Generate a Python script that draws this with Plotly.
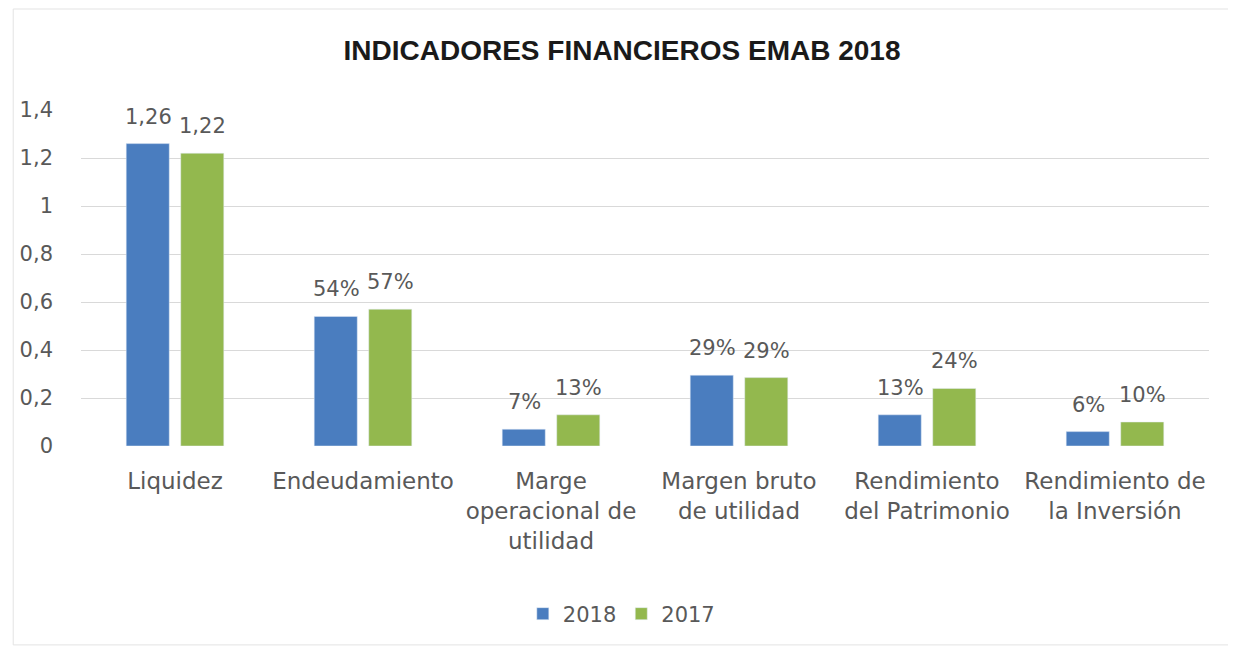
import plotly.graph_objects as go

categories = ["Liquidez", "Endeudamiento", "Marge<br>operacional de<br>utilidad",
              "Margen bruto<br>de utilidad", "Rendimiento<br>del Patrimonio",
              "Rendimiento de<br>la Inversión"]
values_2018 = [1.26, 0.54, 0.07, 0.295, 0.13, 0.06]
values_2017 = [1.22, 0.57, 0.13, 0.285, 0.24, 0.10]
labels_2018 = ["1,26", "54%", "7%", "29%", "13%", "6%"]
labels_2017 = ["1,22", "57%", "13%", "29%", "24%", "10%"]
tick_vals = [0, 0.2, 0.4, 0.6, 0.8, 1.0, 1.2, 1.4]
tick_text = ["0", "0,2", "0,4", "0,6", "0,8", "1", "1,2", "1,4"]

GRAY = "#595959"
FONT = "DejaVu Sans"

fig = go.Figure()
fig.add_trace(go.Bar(name="2018", x=categories, y=values_2018,
                     marker_color="#4a7dbf", cliponaxis=False))
fig.add_trace(go.Bar(name="2017", x=categories, y=values_2017,
                     marker_color="#93b84e", cliponaxis=False))

annotations = []
for series, labels, shift in ((values_2018, labels_2018, -27), (values_2017, labels_2017, 27)):
    for cat, val, lab in zip(categories, series, labels):
        annotations.append(dict(x=cat, y=val, xref="x", yref="y", text=lab,
                                showarrow=False, xshift=shift, yshift=27,
                                yanchor="middle", xanchor="center",
                                font=dict(family=FONT, size=21, color=GRAY)))

fig.update_layout(
    width=1228, height=645,
    margin=dict(l=69, r=27, t=102, b=207),
    paper_bgcolor="white", plot_bgcolor="white",
    barmode="group", bargap=0.42, bargroupgap=0.21,
    title=dict(text="<b>INDICADORES FINANCIEROS EMAB 2018</b>",
               x=0.5, xanchor="center", y=0.935, yanchor="middle",
               font=dict(family="Liberation Sans Narrow, Arial Narrow, Liberation Sans",
                         size=28, color="#1a1a1a")),
    legend=dict(orientation="h", x=0.479, xanchor="center", y=-0.5, yanchor="middle",
                font=dict(family=FONT, size=21, color=GRAY),
                traceorder="normal"),
    annotations=annotations,
    shapes=[dict(type="rect", xref="paper", yref="paper",
                 x0=-0.0601, x1=1.04, y0=-0.592, y1=1.3006,
                 line=dict(color="#e3e3e3", width=1), fillcolor="rgba(0,0,0,0)",
                 layer="below")],
)
fig.update_yaxes(range=[0, 1.4], tickvals=tick_vals, ticktext=tick_text,
                 showgrid=True, gridcolor="#d9d9d9", gridwidth=1,
                 zeroline=False, showline=False, ticks="",
                 ticklabelstandoff=27,
                 tickfont=dict(family=FONT, size=21, color=GRAY))
fig.update_xaxes(showline=False, ticks="", showgrid=False,
                 tickfont=dict(family=FONT, size=23, color=GRAY),
                 ticklabelstandoff=19)

fig.write_html("out.html")
